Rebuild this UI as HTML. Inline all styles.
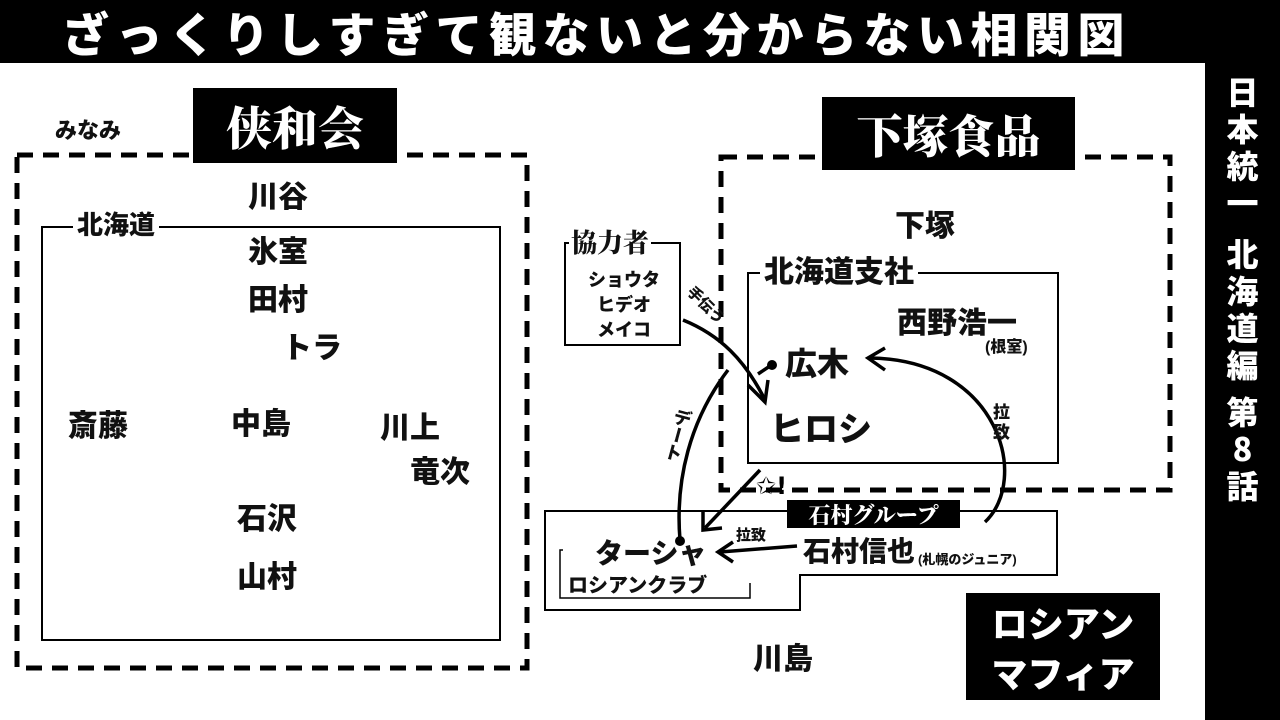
<!DOCTYPE html>
<html><head><meta charset="utf-8"><style>
body{margin:0;width:1280px;height:720px;background:#fff;position:relative;overflow:hidden;font-family:"Liberation Sans","Noto Sans CJK JP",sans-serif;font-weight:900;color:#111}
.a{position:absolute;white-space:nowrap;line-height:1}
.blk{position:absolute;background:#000;color:#fff;display:flex;align-items:center;justify-content:center;font-family:"Noto Serif CJK SC","Noto Sans CJK JP",serif;font-weight:900}
.n{font-size:30px}
.w{background:#fff;padding:0 4px}
</style></head><body>
<div class="blk" style="left:0;top:0;width:1280px;height:63px;font-family:'Noto Sans CJK JP',sans-serif;font-size:47px;justify-content:flex-start;padding-left:62px;box-sizing:border-box;letter-spacing:6.5px">ざっくりしすぎて観ないと分からない相関図</div>
<div class="blk" style="left:1205px;top:63px;width:75px;height:657px;flex-direction:column;justify-content:flex-start;padding-top:10px;box-sizing:border-box;font-family:'Noto Sans CJK JP',sans-serif;font-size:32px;line-height:37px;text-align:center">
<div>日<br>本<br>統<br>一</div><div style="margin-top:14px">北<br>海<br>道<br>編</div><div style="margin-top:10px">第<br>8<br>話</div></div>

<svg class="a" style="left:0;top:0" width="1205" height="720">
<g fill="none" stroke="#000">
<rect x="17" y="155" width="510" height="513" stroke-width="5" stroke-dasharray="16,10"/>
<rect x="721" y="157" width="449" height="333" stroke-width="5" stroke-dasharray="16,10"/>
<rect x="42" y="227" width="458" height="413" stroke-width="2"/>
<rect x="748" y="273" width="310" height="190" stroke-width="2"/>
<rect x="565" y="243" width="115" height="102" stroke-width="2"/>
<polygon points="545,511 1057,511 1057,575 800,575 800,610 545,610" stroke-width="2"/>
<polyline points="563,550 560,550 560,598 750,598 750,583" stroke-width="1.5"/>
<g stroke-width="3.5">
<path d="M683,320 C720,335 745,360 765,400"/>
<path d="M748,385 L765,402 L768,380"/>
<path d="M760,470 L705,528"/>
<path d="M703,510 L703,530 L722,528"/>
<path d="M728,370 C690,420 675,480 680,540"/>
<path d="M985,522 C1030,480 1000,360 870,358"/>
<path d="M885,348 L868,358 L885,370"/>
<path d="M797,546 L720,552"/>
<path d="M733,542 L718,552 L733,562"/>
<path d="M758,374 L770,366"/>
</g></g>
<circle cx="772" cy="365" r="5" fill="#000"/>
<circle cx="680" cy="541" r="5" fill="#000"/>
<text x="756" y="494" font-size="24" font-weight="bold" font-family="DejaVu Sans">✩!</text>
</svg>

<div class="blk" style="left:193px;top:88px;width:204px;height:75px;font-size:46px">侠和会</div>
<div class="blk" style="left:822px;top:97px;width:253px;height:73px;font-size:46px">下塚食品</div>
<div class="blk" style="left:966px;top:593px;width:194px;height:107px;font-size:36px;line-height:50px;text-align:center;font-family:'Noto Sans CJK JP',sans-serif">ロシアン<br>マフィア</div>
<div class="blk" style="left:787px;top:500px;width:173px;height:28px;font-size:22px;font-family:'Noto Serif CJK SC',serif">石村グループ</div>

<div class="a" style="left:55px;top:120px;font-size:22px">みなみ</div>
<div class="a w" style="left:73px;top:212px;font-size:26px">北海道</div>
<div class="a n" style="left:248px;top:183px">川谷</div>
<div class="a n" style="left:248px;top:238px">氷室</div>
<div class="a n" style="left:248px;top:286px">田村</div>
<div class="a n" style="left:282px;top:334px">トラ</div>
<div class="a n" style="left:68px;top:412px">斎藤</div>
<div class="a n" style="left:231px;top:410px">中島</div>
<div class="a n" style="left:380px;top:414px">川上</div>
<div class="a n" style="left:410px;top:458px">竜次</div>
<div class="a n" style="left:237px;top:505px">石沢</div>
<div class="a n" style="left:237px;top:563px">山村</div>

<div class="a w" style="left:569px;top:229px;font-size:26px;font-family:'Noto Serif CJK SC',serif;padding:0 2px">協力者</div>
<div class="a" style="left:588px;top:268px;font-size:18px;line-height:25px;text-align:center">ショウタ<br>ヒデオ<br>メイコ</div>
<div class="a" style="left:895px;top:212px;font-size:30px">下塚</div>
<div class="a w" style="left:760px;top:258px;font-size:30px">北海道支社</div>
<div class="a n" style="left:897px;top:309px">西野浩一</div>
<div class="a" style="left:985px;top:340px;font-size:16px">(根室)</div>
<div class="a" style="left:785px;top:348px;font-size:32px">広木</div>
<div class="a" style="left:770px;top:413px;font-size:34px">ヒロシ</div>
<div class="a" style="left:993px;top:403px;font-size:17px;line-height:20px">拉<br>致</div>
<div class="a" style="left:668px;top:408px;font-size:18px;writing-mode:vertical-rl;transform:rotate(15deg)">デート</div>
<div class="a" style="left:683px;top:298px;font-size:15px;transform:rotate(45deg)">手伝う</div>
<div class="a" style="left:736px;top:528px;font-size:15px">拉致</div>
<div class="a" style="left:595px;top:540px;font-size:28px">ターシャ</div>
<div class="a" style="left:568px;top:576px;font-size:20px">ロシアンクラブ</div>
<div class="a" style="left:803px;top:538px;font-size:28px">石村信也</div>
<div class="a" style="left:918px;top:553px;font-size:13px">(札幌のジュニア)</div>
<div class="a n" style="left:753px;top:645px">川島</div>
</body></html>
